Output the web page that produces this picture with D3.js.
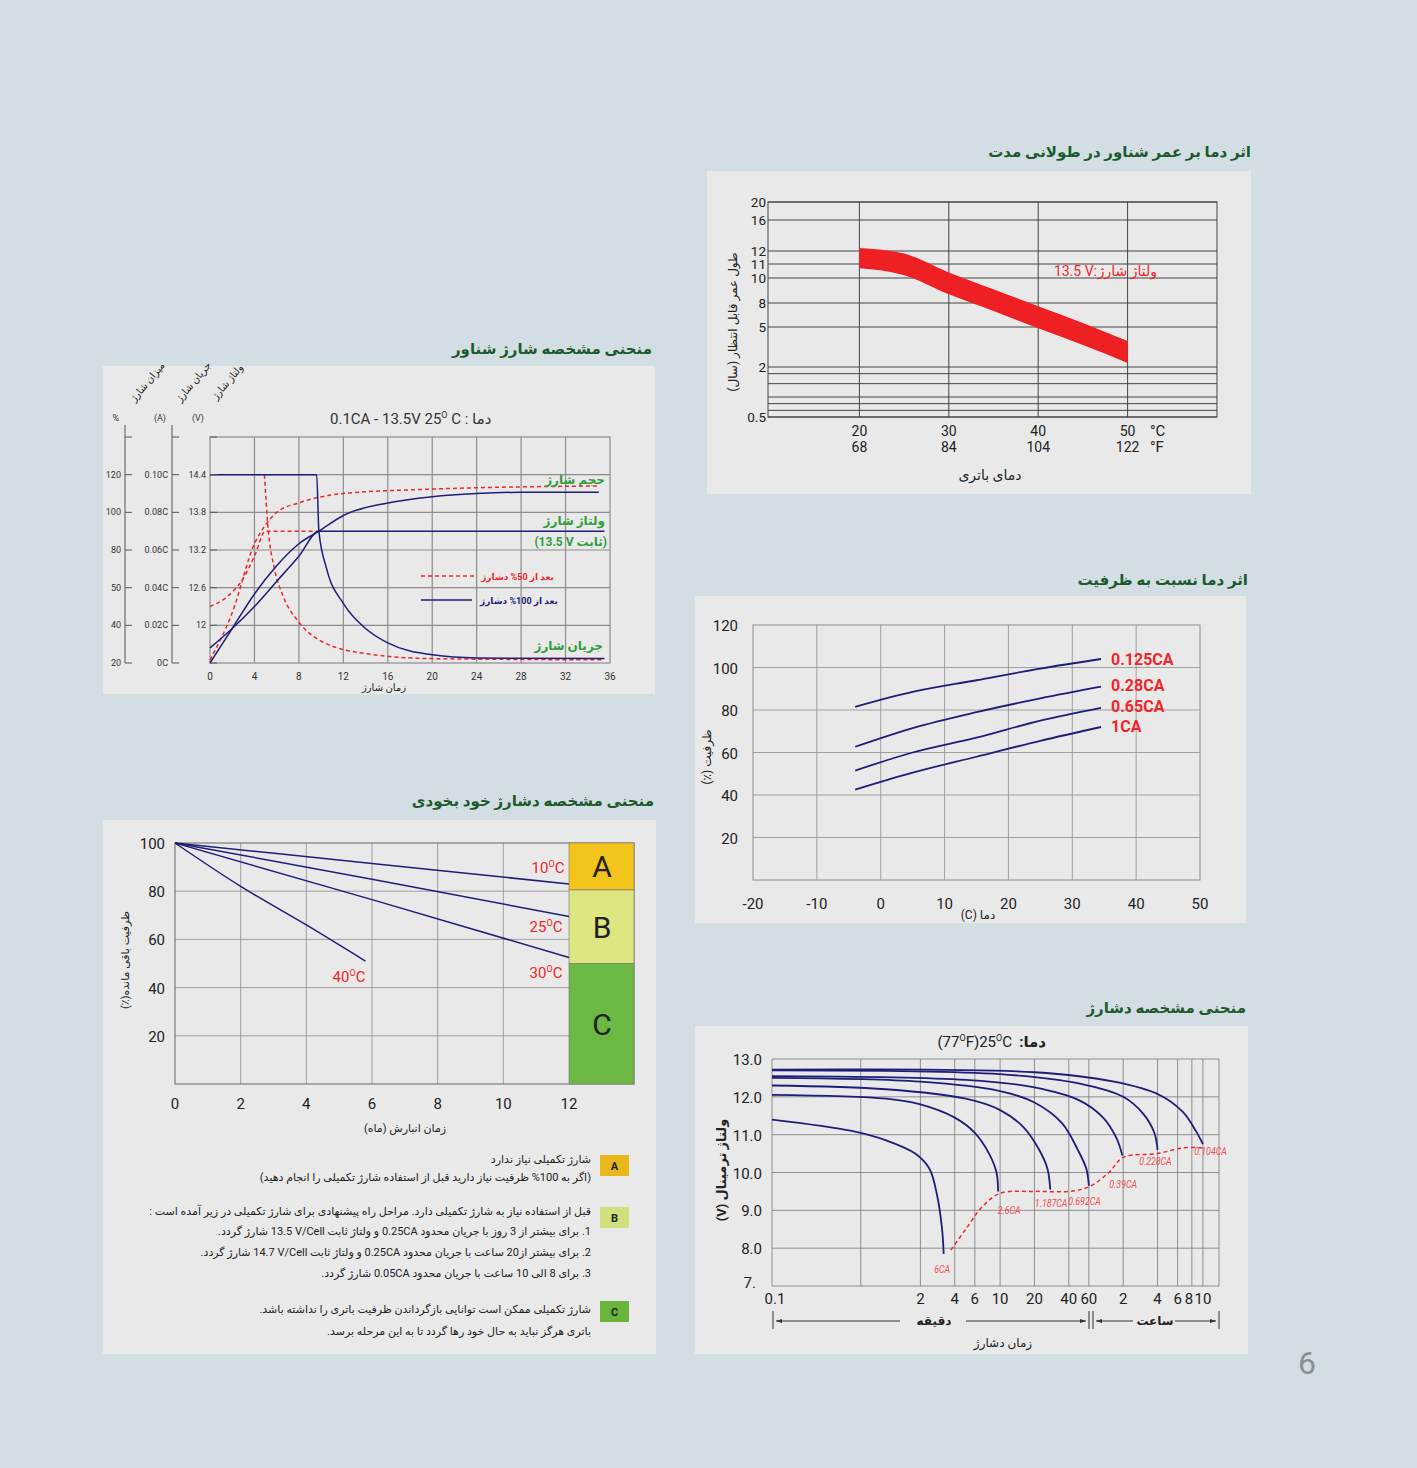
<!DOCTYPE html>
<html><head><meta charset="utf-8">
<script src="https://cdn.jsdelivr.net/npm/d3@7"></script>
<style>body{margin:0;background:#d3dee4}text{font-family:Roboto,"DejaVu Sans",sans-serif}</style>
</head><body><svg id="c"></svg>
<script>
// ---- data ----
// float life vs temperature (band, years)
const lifeTemps = [20, 25, 30, 35, 40, 45, 50];
const lifeUpper = [12.4, 11.8, 10.4, 9.1, 7.6, 5.5, 3.95];
const lifeLower = [10.7, 10.2, 8.7, 7.0, 4.9, 3.65, 2.3];
const lifeTicks = [0.5, 2, 5, 8, 10, 11, 12, 16, 20];
const lifeTickPos = [417, 367, 327, 303, 278, 264, 251, 220, 202];
const lifeExtraLines = [1.8, 1.5, 1.1, 0.9, 0.7];
const tempC = [20, 30, 40, 50];
const tempF = [68, 84, 104, 122];

// capacity vs temperature
const capTemps = [-4, 5, 15, 25, 34.5];
const capSeries = [
  {name: "0.125CA", v: [81.5, 88.5, 94, 99.5, 104]},
  {name: "0.28CA", v: [62.7, 71.5, 79, 85.5, 91]},
  {name: "0.65CA", v: [51.5, 60, 67, 75, 81]},
  {name: "1CA", v: [42.5, 50.5, 58, 65.5, 72]}
];

// discharge curves (minutes, volts)
const dischargeSeries = [
  {name: "6CA", pts: [[0.1, 11.4], [0.5, 11.1], [1, 10.85], [1.8, 10.5], [2.4, 10.1], [2.8, 9.4], [3.1, 8.5], [3.2, 7.85]]},
  {name: "2.6CA", pts: [[0.1, 12.05], [1, 11.95], [2, 11.8], [4, 11.45], [6, 11.05], [8, 10.5], [9.3, 10.0], [9.6, 9.5]]},
  {name: "1.187CA", pts: [[0.1, 12.3], [1, 12.2], [5, 11.95], [10, 11.65], [16, 11.2], [22, 10.6], [26, 10.1], [27.5, 9.55]]},
  {name: "0.692CA", pts: [[0.1, 12.5], [2, 12.4], [10, 12.15], [20, 11.85], [35, 11.3], [48, 10.6], [57, 10.1], [60, 9.65]]},
  {name: "0.39CA", pts: [[0.1, 12.55], [5, 12.45], [20, 12.25], [50, 11.9], [80, 11.45], [105, 10.9], [118, 10.45]]},
  {name: "0.228CA", pts: [[0.1, 12.7], [10, 12.6], [50, 12.35], [120, 12.0], [180, 11.55], [225, 11.05], [240, 10.6]]},
  {name: "0.104CA", pts: [[0.1, 12.72], [20, 12.65], [100, 12.4], [250, 12.05], [400, 11.6], [520, 11.1], [600, 10.75]]}
];
const cutoff = [[3.7, 7.95], [5, 8.5], [7, 9.1], [10, 9.45], [20, 9.5], [40, 9.5], [60, 9.62], [90, 10.0], [120, 10.4], [240, 10.5], [400, 10.65], [600, 10.65]];
const minuteTicks = [0.1, 2, 4, 6, 10, 20, 40, 60];
const hourTicks = [2, 4, 6, 8, 10];

// float charge (hours, plotted on voltage axis)
const f100Volt = [[0, 11.64], [2, 11.95], [4, 12.3], [6, 12.7], [8, 13.1], [9.8, 13.5], [20, 13.5], [35.5, 13.5]];
const f100Vol = [[0, 11.4], [2, 11.95], [4, 12.5], [6, 12.95], [8, 13.3], [9.8, 13.5], [12, 13.75], [16, 13.95], [20, 14.05], [24, 14.1], [28, 14.12], [35, 14.12]];
const f100Cur = [[0, 14.4], [9.6, 14.4], [9.8, 13.5], [10.5, 12.9], [12, 12.35], [14, 11.95], [16, 11.72], [20, 11.53], [24, 11.48], [35.5, 11.47]];
const f50Cur = [[4.9, 14.4], [5.2, 13.6], [5.8, 12.9], [6.5, 12.5], [8, 12.05], [10, 11.75], [14, 11.55], [20, 11.47], [35.5, 11.45]];
const f50Volt = [[0, 12.3], [1.5, 12.45], [3, 12.75], [4, 13.1], [5, 13.5], [9.8, 13.5]];
const f50Vol = [[0, 11.45], [2, 12.2], [4, 13.3], [5, 13.6], [6, 13.8], [8, 13.95], [12, 14.1], [20, 14.17], [35, 14.22]];
const voltTicks = [12, 12.6, 13.2, 13.8, 14.4];
const currentTicks = ["0C", "0.02C", "0.04C", "0.06C", "0.08C", "0.10C"];
const pctTicks = ["20", "40", "50", "80", "100", "120"];

// self discharge (months, %)
const selfSeries = [
  {name: "10", pts: [[0, 100], [6, 91.5], [12, 83]]},
  {name: "25", pts: [[0, 100], [6, 85], [12, 69.5]]},
  {name: "30", pts: [[0, 100], [6, 76.5], [12, 52.5]]},
  {name: "40", pts: [[0, 100], [2, 82], [4, 66], [5.8, 51]]}
];
const zones = [{k: "A", y0: 80.5, y1: 100, c: "#f2c41c"}, {k: "B", y0: 50, y1: 80.5, c: "#dde680"}, {k: "C", y0: 0, y1: 50, c: "#6bb843"}];

// ---- drawing ----
const W = 1417, H = 1468;
const svg = d3.select("#c").attr("width", W).attr("height", H);
svg.append("rect").attr("width", W).attr("height", H).attr("fill", "#d3dee4");
const navy = "#1e1e78", red = "#ee2629", green = "#2f9e3c", title = "#1c5a2c", grid = "#8d8d8d";
const L = s => "\u2066" + s + "\u2069"; // isolate latin runs inside persian text

function fa(x, y, t, anchor, size, color, weight) {
  return svg.append("text").attr("x", x).attr("y", y).attr("direction", "rtl")
    .attr("text-anchor", anchor === "right" ? "start" : anchor === "left" ? "end" : "middle")
    .attr("font-size", size || 12).attr("fill", color || "#222").attr("font-weight", weight || "normal").text(t);
}
function txt(x, y, t, anchor, size, color, weight) {
  return svg.append("text").attr("x", x).attr("y", y).attr("text-anchor", anchor || "middle")
    .attr("font-size", size || 14).attr("fill", color || "#222").attr("font-weight", weight || "normal").text(t);
}
function deg(x, y, parts, anchor, size, color) {
  const t = svg.append("text").attr("x", x).attr("y", y).attr("text-anchor", anchor || "middle").attr("font-size", size).attr("fill", color);
  parts.forEach((p, i) => {
    if (i % 2) t.append("tspan").attr("dy", -size * 0.4).attr("font-size", size * 0.6).text("O");
    else t.append("tspan").attr("dy", i ? size * 0.4 : 0).text(p);
  });
  return t;
}
function panel(x0, y0, x1, y1) {
  svg.append("rect").attr("x", x0).attr("y", y0).attr("width", x1 - x0).attr("height", y1 - y0).attr("fill", "#e9e9ea");
}
function rotFa(x, y, t, size) {
  return fa(0, 0, t, "middle", size || 12).attr("transform", `translate(${x},${y}) rotate(-90)`);
}

// panels
panel(707, 171, 1251, 494);
panel(695, 596, 1246, 923);
panel(695, 1026, 1248, 1354);
panel(103, 366, 655, 694);
panel(103, 820, 656, 1354);
fa(1251, 157, "اثر دما بر عمر شناور در طولانی مدت", "right", 15, title, "bold");
fa(652, 354, "منحنی مشخصه شارژ شناور", "right", 15, title, "bold");
fa(1248, 585, "اثر دما نسبت به ظرفیت", "right", 15, title, "bold");
fa(654, 806, "منحنی مشخصه دشارژ خود بخودی", "right", 15, title, "bold");
fa(1246, 1013, "منحنی مشخصه دشارژ", "right", 15, title, "bold");
txt(1307, 1374, "6", "middle", 32, "#8a8f93");

// ---- 1. life vs temperature ----
{
  const x = d3.scaleLinear().domain([10, 60]).range([770, 1217]);
  const y = d3.scaleLinear().domain(lifeTicks).range(lifeTickPos);
  const g = svg.append("g");
  [...lifeTicks, ...lifeExtraLines].forEach(v => g.append("line").attr("x1", 768).attr("x2", 1217).attr("y1", y(v)).attr("y2", y(v)).attr("stroke", "#444").attr("stroke-width", 1));
  tempC.forEach(v => g.append("line").attr("x1", x(v)).attr("x2", x(v)).attr("y1", 202).attr("y2", 417).attr("stroke", "#444"));
  g.append("rect").attr("x", 768).attr("y", 202).attr("width", 449).attr("height", 215).attr("fill", "none").attr("stroke", "#444");
  const area = d3.area().x((d, i) => x(lifeTemps[i])).y0((d, i) => y(lifeLower[i])).y1(d => y(d)).curve(d3.curveMonotoneX);
  g.append("path").attr("d", area(lifeUpper)).attr("fill", "#ee2024");
  lifeTicks.forEach((v, i) => txt(766, lifeTickPos[i] + 5, v, "end", 13.5, "#222"));
  tempC.forEach((v, i) => { txt(x(v), 436, v, "middle", 14); txt(x(v), 452, tempF[i], "middle", 14); });
  txt(1150, 436, "°C", "start", 15); txt(1150, 452, "°F", "start", 15);
  fa(990, 480, "دمای باتری", "middle", 14);
  rotFa(737, 322, "طول عمر قابل انتظار (سال)", 12);
  fa(1157, 276, "ولتاژ شارژ", "right", 14, red);
  txt(1097, 276, "13.5 V:", "end", 14, red);
}

// ---- 2. capacity vs temperature ----
{
  const x = d3.scaleLinear().domain([-20, 50]).range([753, 1200]);
  const y = d3.scaleLinear().domain([0, 120]).range([880, 625]);
  const g = svg.append("g");
  d3.range(-10, 50, 10).forEach(v => g.append("line").attr("x1", x(v)).attr("x2", x(v)).attr("y1", 625).attr("y2", 880).attr("stroke", grid).attr("stroke-width", 0.8));
  d3.range(20, 120, 20).forEach(v => g.append("line").attr("x1", 753).attr("x2", 1200).attr("y1", y(v)).attr("y2", y(v)).attr("stroke", grid).attr("stroke-width", 0.8));
  g.append("rect").attr("x", 753).attr("y", 625).attr("width", 447).attr("height", 255).attr("fill", "none").attr("stroke", grid);
  const line = d3.line().x((d, i) => x(capTemps[i])).y(d => y(d)).curve(d3.curveMonotoneX);
  capSeries.forEach(s => g.append("path").attr("d", line(s.v)).attr("fill", "none").attr("stroke", navy).attr("stroke-width", 1.8));
  const labY = [659, 685, 706, 726];
  capSeries.forEach((s, i) => txt(1111, labY[i] + 6, s.name, "start", 16, red, "bold"));
  d3.range(20, 140, 20).forEach(v => txt(738, y(v) + 6, v, "end", 15));
  d3.range(-20, 60, 10).forEach(v => txt(x(v), 909, v, "middle", 15));
  fa(978, 919, "دما " + L("(C)"), "middle", 12);
  rotFa(711, 757, "ظرفیت (٪)", 12);
}

// ---- 3. discharge curves ----
{
  const x = d3.scaleLog().domain([0.1, 830]).range([772, 1219]);
  const y = d3.scaleLinear().domain([7, 13]).range([1286, 1059]);
  const g = svg.append("g");
  const vLines = [0.1, 0.6, ...minuteTicks.slice(1), ...hourTicks.map(h => h * 60), 830];
  vLines.forEach(v => g.append("line").attr("x1", x(v)).attr("x2", x(v)).attr("y1", 1059).attr("y2", 1286).attr("stroke", "#777").attr("stroke-width", 0.8));
  d3.range(7, 14).forEach(v => g.append("line").attr("x1", 772).attr("x2", 1219).attr("y1", y(v)).attr("y2", y(v)).attr("stroke", "#777").attr("stroke-width", 0.8));
  const line = d3.line().x(d => x(d[0])).y(d => y(d[1])).curve(d3.curveCatmullRom.alpha(0.5));
  dischargeSeries.forEach(s => g.append("path").attr("d", line(s.pts)).attr("fill", "none").attr("stroke", navy).attr("stroke-width", 1.8));
  g.append("path").attr("d", line(cutoff)).attr("fill", "none").attr("stroke", red).attr("stroke-width", 1.5).attr("stroke-dasharray", "4,3");
  const labs = [[3.1, 7.35], [12, 8.9], [28, 9.1], [55, 9.15], [120, 9.6], [230, 10.2], [700, 10.45]];
  dischargeSeries.forEach((s, i) => txt(x(labs[i][0]), y(labs[i][1]), s.name, "middle", 11, "#f05050").attr("font-style", "italic").attr("transform", `translate(${x(labs[i][0])},${y(labs[i][1])}) scale(0.8,1) translate(${-x(labs[i][0])},${-y(labs[i][1])})`));
  d3.range(8, 14).forEach(v => txt(762, y(v) + 6, v.toFixed(1), "end", 15));
  txt(756, y(7) + 2, "7.", "end", 15);
  minuteTicks.forEach(v => txt(x(v) + (v === 0.1 ? 3 : 0), 1304, v, "middle", 15));
  hourTicks.forEach(v => txt(x(v * 60) - (v === 8 ? 3 : 0), 1304, v, "middle", 15));
  deg(1012, 1047, ["(77", "", "F)25", "", "C"], "end", 15, "#222");
  fa(1046, 1047, "دما:", "right", 15, "#222", "bold");
  // time brackets
  const bx = [773, 1089, 1093, 1219];
  bx.forEach(v => g.append("line").attr("x1", v).attr("x2", v).attr("y1", 1311).attr("y2", 1329).attr("stroke", "#333"));
  [[776, 900], [966, 1086], [1096, 1133], [1175, 1216]].forEach(([a, b]) => g.append("line").attr("x1", a).attr("x2", b).attr("y1", 1321).attr("y2", 1321).attr("stroke", "#333"));
  [[776, 1], [1086, -1], [1096, 1], [1216, -1]].forEach(([px, d]) => g.append("path").attr("d", `M${px},1321 l${6 * d},-2 l0,4z`).attr("fill", "#333"));
  fa(934, 1325, "دقیقه", "middle", 12, "#222", "bold");
  fa(1155, 1325, "ساعت", "middle", 12, "#222", "bold");
  fa(1003, 1347, "زمان دشارژ", "middle", 12);
  rotFa(726, 1170, "ولتاژ ترمینال (V)", 13).attr("font-weight", "bold");
}

// ---- 4. float charge ----
{
  const x = d3.scaleLinear().domain([0, 36]).range([210, 610]);
  const y = d3.scaleLinear().domain([11.4, 15.0]).range([663, 437]);
  const g = svg.append("g");
  d3.range(4, 36, 4).forEach(v => g.append("line").attr("x1", x(v)).attr("x2", x(v)).attr("y1", 437).attr("y2", 663).attr("stroke", grid).attr("stroke-width", 1.2));
  voltTicks.forEach(v => g.append("line").attr("x1", 210).attr("x2", 610).attr("y1", y(v)).attr("y2", y(v)).attr("stroke", grid).attr("stroke-width", 1.2));
  g.append("rect").attr("x", 210).attr("y", 437).attr("width", 400).attr("height", 226).attr("fill", "none").attr("stroke", grid).attr("stroke-width", 1.2);
  const line = d3.line().x(d => x(d[0])).y(d => y(d[1])).curve(d3.curveMonotoneX);
  [f50Volt, f50Vol, f50Cur].forEach(p => g.append("path").attr("d", line(p)).attr("fill", "none").attr("stroke", red).attr("stroke-width", 1.5).attr("stroke-dasharray", "4,3"));
  [f100Volt, f100Vol, f100Cur].forEach(p => g.append("path").attr("d", line(p)).attr("fill", "none").attr("stroke", navy).attr("stroke-width", 1.5));
  // left axes
  const tickY = [11.4, ...voltTicks];
  [[125, pctTicks, "%"], [172, currentTicks, "(A)"], [210, null, "(V)"]].forEach(([ax, labs, head]) => {
    if (ax !== 210) g.append("line").attr("x1", ax).attr("x2", ax).attr("y1", 425).attr("y2", 663).attr("stroke", "#555");
    [...tickY, 15.0].forEach(v => g.append("line").attr("x1", ax).attr("x2", ax + 7).attr("y1", y(v)).attr("y2", y(v)).attr("stroke", "#555"));
    tickY.forEach((v, i) => txt(ax - 4, y(v) + 3, labs ? labs[i] : (i === 0 ? "" : v), "end", 9, "#333"));
    txt(ax - 6, 421, head, "end", 9, "#333");
  });
  [[150, 384, "میزان شارژ"], [196, 384, "جریان شارژ"], [230, 384, "ولتاژ شارژ"]].forEach(([px, py, t]) =>
    fa(0, 0, t, "middle", 10).attr("transform", `translate(${px},${py}) rotate(-50)`));
  d3.range(0, 40, 4).forEach(v => txt(x(v), 680, v, "middle", 10, "#333"));
  fa(384, 691, "زمان شارژ", "middle", 10);
  const t = svg.append("text").attr("x", 330).attr("y", 424).attr("font-size", 15).attr("fill", "#333");
  t.append("tspan").text("0.1CA - 13.5V 25");
  t.append("tspan").attr("dy", -6).attr("font-size", 9).text("O");
  t.append("tspan").attr("dy", 6).text(" C : ");
  t.append("tspan").text("دما");
  fa(605, 484, "حجم شارژ", "right", 12, green, "bold");
  fa(605, 525, "ولتاژ شارژ", "right", 12, green, "bold");
  fa(607, 546, "(ثابت " + L("13.5 V") + ")", "right", 12, green, "bold");
  fa(603, 650, "جریان شارژ", "right", 12, green, "bold");
  g.append("line").attr("x1", 421).attr("x2", 474).attr("y1", 576).attr("y2", 576).attr("stroke", red).attr("stroke-width", 1.5).attr("stroke-dasharray", "4,3");
  g.append("line").attr("x1", 421).attr("x2", 472).attr("y1", 600).attr("y2", 600).attr("stroke", navy).attr("stroke-width", 1.5);
  fa(554, 580, "بعد از 50% دشارژ", "right", 9, red, "bold");
  fa(558, 604, "بعد از 100% دشارژ", "right", 9, navy, "bold");
}

// ---- 5. self discharge ----
{
  const x = d3.scaleLinear().domain([0, 12]).range([175, 569]);
  const y = d3.scaleLinear().domain([0, 100]).range([1084, 843]);
  const g = svg.append("g");
  d3.range(2, 12, 2).forEach(v => g.append("line").attr("x1", x(v)).attr("x2", x(v)).attr("y1", 843).attr("y2", 1084).attr("stroke", grid).attr("stroke-width", 0.8));
  d3.range(20, 100, 20).forEach(v => g.append("line").attr("x1", 175).attr("x2", 569).attr("y1", y(v)).attr("y2", y(v)).attr("stroke", grid).attr("stroke-width", 0.8));
  g.append("rect").attr("x", 175).attr("y", 843).attr("width", 459).attr("height", 241).attr("fill", "none").attr("stroke", "#666");
  zones.forEach(z => {
    g.append("rect").attr("x", 569).attr("y", y(z.y1)).attr("width", 65).attr("height", y(z.y0) - y(z.y1)).attr("fill", z.c).attr("stroke", "#777").attr("stroke-width", 0.6);
    txt(602, (y(z.y0) + y(z.y1)) / 2 + 11, z.k, "middle", 30, "#222");
  });
  const line = d3.line().x(d => x(d[0])).y(d => y(d[1])).curve(d3.curveMonotoneX);
  selfSeries.forEach(s => g.append("path").attr("d", line(s.pts)).attr("fill", "none").attr("stroke", navy).attr("stroke-width", 1.5));
  const labs = [[548, 873], [546, 932], [546, 978], [349, 982]];
  selfSeries.forEach((s, i) => deg(labs[i][0], labs[i][1], [s.name, "", "C"], "middle", 15, red));
  d3.range(20, 120, 20).forEach(v => txt(165, y(v) + 6, v, "end", 15));
  d3.range(0, 14, 2).forEach(v => txt(x(v), 1109, v, "middle", 15));
  fa(405, 1132, "زمان انبارش (ماه)", "middle", 11);
  rotFa(129, 960, "ظرفیت باقی مانده(٪)", 11);
  const legend = [
    {k: "A", c: "#e8b81a", y: 1155, lines: [[1163, "شارژ تکمیلی نیاز ندارد"], [1181, "(اگر به 100% ظرفیت نیاز دارید قبل از استفاده شارژ تکمیلی را انجام دهید)"]]},
    {k: "B", c: "#d3df7c", y: 1207, lines: [[1215, "قبل از استفاده نیاز به شارژ تکمیلی دارد. مراحل راه پیشنهادی برای شارژ تکمیلی در زیر آمده است :"], [1235, "1. برای بیشتر از 3 روز با جریان محدود 0.25CA و ولتاژ ثابت " + L("13.5 V/Cell") + " شارژ گردد."], [1256, "2. برای بیشتر از20 ساعت با جریان محدود 0.25CA و ولتاژ ثابت " + L("14.7 V/Cell") + " شارژ گردد."], [1277, "3. برای 8 الی 10 ساعت با جریان محدود 0.05CA شارژ گردد."]]},
    {k: "C", c: "#68b43c", y: 1301, lines: [[1313, "شارژ تکمیلی ممکن است توانایی بازگرداندن ظرفیت باتری را نداشته باشد."], [1335, "باتری هرگز نباید به حال خود رها گردد تا به این مرحله برسد."]]}
  ];
  legend.forEach(l => {
    g.append("rect").attr("x", 600).attr("y", l.y).attr("width", 29).attr("height", 21).attr("fill", l.c);
    txt(614.5, l.y + 15, l.k, "middle", 11, "#222", "bold");
    l.lines.forEach(([ly, t]) => fa(591, ly, t, "right", 11));
  });
}
</script></body></html>
